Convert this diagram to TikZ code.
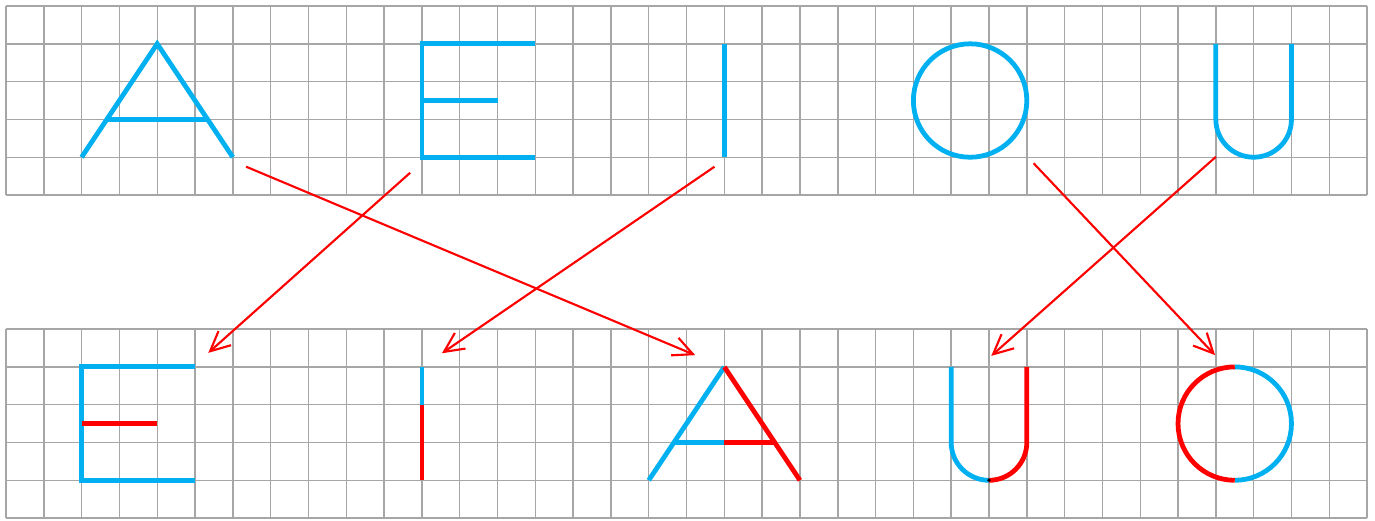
\documentclass[tikz,border=0pt]{standalone}
\usepackage{tikz}
\usetikzlibrary{arrows.meta}
\definecolor{gridgray}{RGB}{166, 166, 166}
\definecolor{vowelblue}{RGB}{0, 176, 240}
\definecolor{swapred}{RGB}{255, 0, 0}

\begin{document}
\begin{tikzpicture}[gridline/.style={draw=gridgray, line width=1.1pt}, letter/.style={draw=vowelblue, line width=3.6pt}, swapped/.style={draw=swapred, line width=3.6pt}, moveto/.style={draw=swapred, line width=1.6pt, -{Straight Barb[length=5.2mm, width=5mm]}}]
    \useasboundingbox (-0.159,-0.053) rectangle (36.21,13.704);

    \begin{scope}[yshift=8.545cm]
        \draw [gridline] (0,0) grid (36,5);
        \draw [letter] (2,1) -- (4,4) -- (6,1);
        \draw [letter] (2.667,2) -- (5.333,2);
        \draw [letter] (14,4) -- (11,4) -- (11,1) -- (14,1);
        \draw [letter] (11,2.5) -- (13,2.5);
        \draw [letter] (19,4) -- (19,1);
        \draw [letter] (25.5,2.5) circle (1.5);
        \draw [letter] (32,4) -- (32,2) arc (180:360:1) -- (34,4);
        \coordinate (atop) at (6.35,0.75);
        \coordinate (etop) at (10.69,0.59);
        \coordinate (itop) at (18.74,0.75);
        \coordinate (otop) at (27.18,0.84);
        \coordinate (utop) at (32.0,1.01);
    \end{scope}

    \draw [gridline] (0,0) grid (36,5);
    \draw [letter] (5,4) -- (2,4) -- (2,1) -- (5,1);
    \draw [swapped] (2,2.5) -- (4,2.5);
    \draw [letter] (11,4) -- (11,3);
    \draw [swapped] (11,3) -- (11,1);
    \draw [letter] (17,1) -- (19,4);
    \draw [letter] (17.667,2) -- (19,2);
    \draw [swapped] (19,4) -- (21,1);
    \draw [swapped] (19,2) -- (20.333,2);
    \draw [letter] (25,4) -- (25,2) arc (180:270:1);
    \draw [swapped] (26,1) arc (270:360:1) -- (27,4);
    \fill [black] (26,1) circle (0.05);
    \draw [letter] (32.5,4) arc (90:-90:1.5);
    \draw [swapped] (32.5,4) arc (90:270:1.5);
    \coordinate (abot) at (18.23,4.31);
    \coordinate (ebot) at (5.35,4.37);
    \coordinate (ibot) at (11.53,4.36);
    \coordinate (ubot) at (26.06,4.29);
    \coordinate (obot) at (31.98,4.31);

    \draw [moveto] (atop) -- (abot);
    \draw [moveto] (etop) -- (ebot);
    \draw [moveto] (itop) -- (ibot);
    \draw [moveto] (otop) -- (obot);
    \draw [moveto] (utop) -- (ubot);
\end{tikzpicture}
\end{document}
